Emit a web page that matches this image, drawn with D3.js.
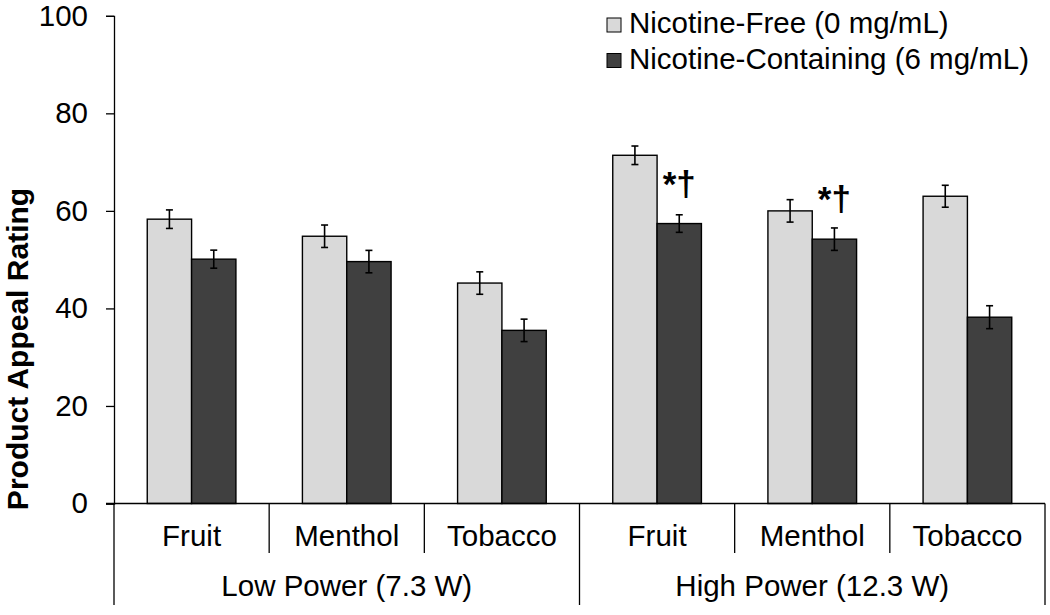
<!DOCTYPE html>
<html>
<head>
<meta charset="utf-8">
<script src="https://cdn.jsdelivr.net/npm/d3@7.9.0/dist/d3.min.js"></script>
<style>
  body { margin: 0; background: #fff; }
  svg text { font-family: "Liberation Sans", Arial, sans-serif; fill: #000; }
</style>
</head>
<body>
<svg id="chart" width="1050" height="615"></svg>
<script>
const flavors = ['Fruit', 'Menthol', 'Tobacco'];
const powers = ['Low Power (7.3 W)', 'High Power (12.3 W)'];
const seriesNames = ['Nicotine-Free (0 mg/mL)', 'Nicotine-Containing (6 mg/mL)'];
const freeMeans = [58.3, 54.8, 45.2, 71.4, 60.0, 63.0];
const freeSE = [1.9, 2.3, 2.3, 1.9, 2.3, 2.25];
const nicMeans = [50.1, 49.6, 35.5, 57.4, 54.2, 38.2];
const nicSE = [1.85, 2.3, 2.3, 1.8, 2.3, 2.35];
const sigMarks = ['', '', '', '*\u2020', '*\u2020', ''];
const yTicks = [0, 20, 40, 60, 80, 100];

const colors = ['#d9d9d9', '#404040'];
const fs = 29.5;

// one row per category cell (power x flavor)
const cells = [];
powers.forEach((p, pi) => {
  flavors.forEach((f, fi) => {
    const i = pi * flavors.length + fi;
    cells.push({
      key: p + '|' + f, power: p, flavor: f, mark: sigMarks[i],
      vals: [
        { s: 0, mean: freeMeans[i], se: freeSE[i] },
        { s: 1, mean: nicMeans[i], se: nicSE[i] }
      ]
    });
  });
});

const svg = d3.select('#chart');
const plotLeft = 114, plotRight = 1045, plotTop = 15.8, plotBottom = 503.5;

const x = d3.scaleBand().domain(cells.map(d => d.key)).range([plotLeft, plotRight]).padding(0);
const xs = d3.scaleBand().domain([0, 1]).range([0, x.bandwidth()])
  .paddingInner(0).paddingOuter(0.75);
const y = d3.scaleLinear().domain([0, 100]).range([plotBottom, plotTop]);

// y axis
const yAxis = svg.append('g')
  .attr('transform', `translate(${plotLeft},0)`)
  .call(d3.axisLeft(y).tickValues(yTicks).tickSize(8).tickPadding(18));
yAxis.select('.domain').attr('stroke', '#000').attr('stroke-width', 1.3);
yAxis.selectAll('.tick line').attr('stroke', '#000').attr('stroke-width', 1.3);
yAxis.selectAll('.tick text')
  .attr('font-size', fs)
  .attr('font-family', '"Liberation Sans", Arial, sans-serif');

svg.append('text')
  .attr('transform', 'translate(28,349) rotate(-90)')
  .attr('text-anchor', 'middle')
  .attr('font-size', 30)
  .attr('font-weight', 'bold')
  .text('Product Appeal Rating');

// bars
const groups = svg.append('g').selectAll('g')
  .data(cells).join('g')
  .attr('transform', d => `translate(${x(d.key)},0)`);

groups.selectAll('rect')
  .data(d => d.vals).join('rect')
  .attr('x', d => xs(d.s))
  .attr('y', d => y(d.mean))
  .attr('width', xs.bandwidth())
  .attr('height', d => y(0) - y(d.mean))
  .attr('fill', d => colors[d.s])
  .attr('stroke', '#000')
  .attr('stroke-width', 1.4);

// error bars
const eb = groups.selectAll('g.err')
  .data(d => d.vals).join('g').attr('class', 'err')
  .attr('stroke', '#000').attr('stroke-width', 1.6);
eb.append('line')
  .attr('x1', d => xs(d.s) + xs.bandwidth() / 2)
  .attr('x2', d => xs(d.s) + xs.bandwidth() / 2)
  .attr('y1', d => y(d.mean + d.se))
  .attr('y2', d => y(d.mean - d.se));
eb.selectAll('line.cap')
  .data(d => [[d, d.mean + d.se], [d, d.mean - d.se]]).join('line')
  .attr('class', 'cap')
  .attr('x1', d => xs(d[0].s) + xs.bandwidth() / 2 - 3.5)
  .attr('x2', d => xs(d[0].s) + xs.bandwidth() / 2 + 3.5)
  .attr('y1', d => y(d[1]))
  .attr('y2', d => y(d[1]));

// significance marks above nicotine bars
groups.filter(d => d.mark).append('text')
  .attr('x', xs(1) + xs.bandwidth() / 2)
  .attr('y', d => y(d.vals[1].mean) - 28)
  .attr('text-anchor', 'middle')
  .attr('font-size', 35)
  .attr('font-weight', 'bold')
  .text(d => d.mark);

// category axis (baseline + separators)
svg.append('line')
  .attr('x1', plotLeft - 8).attr('x2', plotRight)
  .attr('y1', plotBottom).attr('y2', plotBottom)
  .attr('stroke', '#000').attr('stroke-width', 1.3);

const bounds = cells.map(d => x(d.key)).concat([plotRight]);
svg.append('g').selectAll('line')
  .data(bounds).join('line')
  .attr('x1', d => d).attr('x2', d => d)
  .attr('y1', plotBottom)
  .attr('y2', (d, i) => (i % flavors.length === 0) ? 605 : 553)
  .attr('stroke', '#000').attr('stroke-width', 1.3);

svg.append('g').selectAll('text')
  .data(cells).join('text')
  .attr('x', d => x(d.key) + x.bandwidth() / 2)
  .attr('y', 546)
  .attr('text-anchor', 'middle')
  .attr('font-size', fs)
  .text(d => d.flavor);

svg.append('g').selectAll('text')
  .data(powers).join('text')
  .attr('x', d => x(d + '|' + flavors[0]) + x.bandwidth() * flavors.length / 2)
  .attr('y', 596)
  .attr('text-anchor', 'middle')
  .attr('font-size', fs)
  .text(d => d);

// legend
const legend = svg.append('g').attr('transform', 'translate(607,18)');
const li = legend.selectAll('g').data(seriesNames).join('g')
  .attr('transform', (d, i) => `translate(0,${i * 35.5})`);
li.append('rect')
  .attr('width', 14).attr('height', 14)
  .attr('fill', (d, i) => colors[i])
  .attr('stroke', '#000').attr('stroke-width', 1);
li.append('text')
  .attr('x', 22).attr('y', 15)
  .attr('font-size', fs)
  .text(d => d);
</script>
</body>
</html>
